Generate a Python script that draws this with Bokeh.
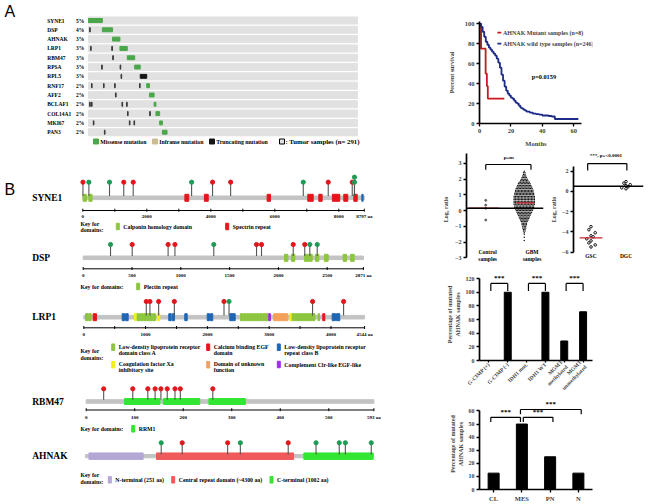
import math
from bokeh.plotting import figure
from bokeh.layouts import row, column
from bokeh.models import Range1d, FactorRange, Label, Span, FixedTicker
from bokeh.core.properties import value
from bokeh.embed import file_html
from bokeh.resources import INLINE

SERIF = "Liberation Serif"
SANS = "Liberation Sans"

# ======================= DATA =======================
# ---- Panel A: oncoprint
a_genes = ["SYNE1", "DSP", "AHNAK", "LRP1", "RBM47", "RPSA", "RPL5", "RNF17", "AFF2",
           "BCLAF1", "COL14A1", "MKI67", "PAN3"]
a_freq = ["5%", "4%", "3%", "3%", "3%", "3%", "3%", "2%", "2%", "2%", "2%", "2%", "2%"]
a_n_samples = 291
a_block_start = [0, 15, 26, 34, 42, 50, 56, 63, 66, 71, 73, 77, 80]
a_block_count = [15, 11, 8, 8, 8, 6, 7, 3, 5, 2, 4, 3, 5]
a_block_type = ["Missense", "Missense", "Missense", "Missense", "Missense", "Missense",
                "Truncating", "Missense", "Missense", "Missense", "Missense", "Missense", "Missense"]
a_single_hits = [[], [1], [], [2, 25], [26], [14, 34], [35], [3, 16, 28, 55], [29],
                 [1, 3, 36, 41], [42, 66], [5, 44, 49], [17]]
a_legend_labels = ["Missense mutation", "Inframe mutation", "Truncating mutation"]
a_legend_types = ["Missense", "Inframe", "Truncating"]

# ---- Panel B: protein lollipops
syne1_len = 8797
syne1_dom_start = [10, 190, 3190, 3800, 5760, 7030, 7375, 7800, 8155, 8470, 8720]
syne1_dom_end = [115, 290, 3310, 3920, 5865, 7200, 7480, 8030, 8280, 8575, 8760]
syne1_dom_kind = ["CH", "CH", "SPEC", "SPEC", "SPEC", "SPEC", "SPEC", "SPEC", "SPEC", "SPEC", "KASH"]
syne1_mut_pos = [5, 190, 835, 1280, 1575, 3400, 4055, 4620, 6890, 7670, 8420, 8490]
syne1_mut_kind = ["R", "G", "G", "R", "R", "G", "R", "R", "G", "R", "R", "G"]
syne1_mut_n = [1, 1, 1, 1, 1, 1, 1, 1, 1, 1, 1, 2]
syne1_ticks = [0, 2000, 4000, 6000, 8000, 8797]
syne1_minor = [1000, 3000, 5000, 7000]

dsp_len = 2871
dsp_dom_start = [2063, 2134, 2267, 2310, 2380, 2472, 2664, 2739]
dsp_dom_end = [2097, 2168, 2305, 2346, 2414, 2510, 2698, 2777]
dsp_dom_kind = ["PLEC"] * 8
dsp_mut_pos = [280, 502, 870, 940, 1338, 1776, 1827, 2152, 2270, 2322, 2398]
dsp_mut_kind = ["G", "R", "R", "R", "G", "R", "R", "R", "R", "G", "G"]
dsp_mut_n = [1] * 11
dsp_ticks = [0, 500, 1000, 1500, 2000, 2500, 2871]
dsp_minor = []

lrp1_len = 4544
lrp1_dom_start = [28, 78, 152, 621, 675, 820, 864, 916, 968, 1020, 1072, 1124, 1188, 1375, 1430,
                  1634, 1997, 2050, 2362, 2536, 2587, 2638, 2689, 2740, 2791, 2842, 2893, 2944,
                  2993, 3074, 3333, 3372, 3419, 3466, 3513, 3560, 3607, 3654, 3701, 3790, 3867,
                  4019, 4089]
lrp1_dom_end = [70, 120, 205, 659, 718, 853, 906, 958, 1010, 1062, 1114, 1160, 1230, 1414, 1468,
                1673, 2034, 2087, 2450, 2578, 2629, 2680, 2731, 2782, 2833, 2884, 2935, 2986,
                3021, 3301, 3372, 3412, 3459, 3506, 3553, 3600, 3647, 3694, 3741, 3814, 3900,
                4073, 4142]
lrp1_dom_kind = ["LA", "LA", "EGF", "LB", "LB", "XA", "LA", "LA", "LA", "LA", "LA", "LA", "XA",
                 "LB", "LB", "LB", "LB", "LB", "LB", "LA", "LA", "LA", "LA", "LA", "LA", "LA",
                 "LA", "LA", "CLR", "DUF", "XA", "LA", "LA", "LA", "LA", "LA", "LA", "LA", "LA",
                 "LA", "EGF", "LB", "LB"]
lrp1_mut_pos = [1011, 1070, 1211, 1465, 2269, 2350, 3702, 4204]
lrp1_mut_kind = ["R", "R", "R", "R", "R", "G", "R", "R"]
lrp1_mut_n = [1] * 8
lrp1_ticks = [0, 1000, 2000, 3000, 4000, 4544]
lrp1_minor = [500, 1500, 2500, 3500]

rbm47_len = 593
rbm47_dom_start = [79, 159, 253]
rbm47_dom_end = [152, 234, 328]
rbm47_dom_kind = ["RRM", "RRM", "RRM"]
rbm47_mut_pos = [36, 96, 127, 142, 154, 167, 183, 194, 261]
rbm47_mut_kind = ["R"] * 9
rbm47_mut_n = [1] * 9
rbm47_ticks = [0, 100, 200, 300, 400, 500, 593]
rbm47_minor = []

ahnak_len = 5890
ahnak_dom_start = [70, 1454, 4470]
ahnak_dom_end = [1180, 4260, 5890]
ahnak_dom_kind = ["NT", "CR", "CT"]
ahnak_mut_pos = [1550, 1980, 2910, 3170, 4150, 4720, 5195, 5320, 5850]
ahnak_mut_kind = ["G", "R", "R", "G", "R", "G", "G", "G", "G"]
ahnak_mut_n = [1] * 9

# ---- Panel C: Kaplan-Meier
mut_months = [0, 1.0, 3.9, 4.7, 5.3, 15.8]
mut_surv = [100, 75, 50, 37.5, 25, 25]
wt_months = [0, 1, 2, 3, 4, 5, 6, 7, 8, 9, 10, 11, 12, 13, 14, 15, 16, 17, 18, 19, 20, 21, 22,
             23, 24, 25, 26, 27, 28, 29, 30, 32, 34, 36, 38, 40, 42, 44, 46, 48, 63]
wt_surv = [100, 97, 92, 87, 82, 79, 76, 74, 72, 70, 68, 65, 61, 56, 49, 43, 37, 33, 30, 28, 26,
           25, 23, 21, 20, 18, 16, 15, 14, 13, 12, 11, 10, 9.5, 9, 8, 8, 7.5, 7, 4.5, 4.5]
c_series_labels = ["AHNAK Mutant samples (n=8)", "AHNAK wild type samples (n=246)"]
c_p_value = "p=0.0159"

# ---- Panel D: expression
d_ctrl_vals = [0.65, 0.35, 0.15, -0.6]
d_ctrl_median = 0.15
d_gbm_levels = [2.5, 2.4, 2.3, 2.2, 2.1, 2.0, 1.9, 1.8, 1.7, 1.6, 1.5, 1.4, 1.3, 1.2, 1.1, 1.0,
                0.9, 0.8, 0.7, 0.6, 0.5, 0.4, 0.3, 0.2, 0.1, 0.0, -0.1, -0.2, -0.3, -0.4, -0.5,
                -0.6, -0.7, -0.8, -0.9, -1.0, -1.1, -1.2, -1.3, -1.4, -1.5, -1.7, -1.9]
d_gbm_counts = [1, 2, 2, 3, 4, 5, 6, 8, 9, 10, 11, 12, 13, 13, 14, 14, 15, 15, 15, 15, 15, 15,
                14, 14, 13, 12, 11, 10, 9, 8, 7, 6, 5, 4, 4, 3, 3, 2, 2, 1, 1, 1, 1]
d_gbm_median = 0.49
d_left_ref = 0.15
d_gsc_vals = [-3.5, -3.8, -4.1, -4.4, -4.5, -4.7, -4.9, -5.1, -5.3, -5.5]
d_gsc_median = -4.6
d_dgc_vals = [0.95, 0.8, 0.65, 0.55, 0.45, 0.35, 0.25]
d_right_ref = 0.5

# ---- Panel E
e_cats = ["G-CIMP (+)", "G-CIMP (-)", "IDH1 mut.", "IDH1 WT", "MGMT\nmethylated", "MGMT\nunmethylated"]
e_vals = [0, 100, 0, 100, 28.6, 71.4]
e_pairs = [(0, 1), (2, 3), (4, 5)]
e_pair_h = [113, 113, 113]

# ---- Panel F
f_cats = ["CL", "MES", "PN", "N"]
f_vals = [12.5, 50, 25, 12.5]
f_pairs = [(0, 1), (1, 2), (1, 3)]
f_pair_h = [55.1, 55.1, 61.1]

# ======================= STYLE =======================
MUT_COLORS = {"Missense": "#4aa74a", "Inframe": "#cbbd93", "Truncating": "#151515"}
DOM_COLORS = {"CH": "#8cc63f", "SPEC": "#e8141c", "KASH": "#1f66b5", "PLEC": "#8cc63f",
              "LA": "#8cc63f", "EGF": "#e8141c", "LB": "#1f66b5", "XA": "#f2ee1c",
              "DUF": "#f5a05a", "CLR": "#9b30e8", "RRM": "#33e633", "NT": "#b4a7d6",
              "CR": "#f05a5a", "CT": "#33e633"}
HEAD_COLORS = {"R": "#e3161b", "G": "#1e9b55"}
KM_COLORS = ["#c8191e", "#1c2a88"]


def base_fig(**kw):
    p = figure(output_backend="svg", toolbar_location=None, **kw)
    p.grid.visible = False
    p.outline_line_color = None
    p.background_fill_color = "white"
    p.border_fill_color = "white"
    return p


def txt(p, xs, ys, ts, size, align="left", baseline="middle", font=SERIF, style="bold",
        color="black", **kw):
    p.text(x=xs, y=ys, text=ts, text_font=value(font), text_font_style=style,
           text_font_size=size, text_align=align, text_baseline=baseline,
           text_color=color, text_line_height=1.05, **kw)


def style_axes(p, size="6.5px", label_size=None, standoff=3):
    for a in p.axis:
        a.axis_line_width = 1.7
        a.axis_line_color = "black"
        a.major_tick_line_width = 1.3
        a.major_tick_line_color = "black"
        a.major_tick_out = 3
        a.major_tick_in = 0
        a.minor_tick_line_color = None
        a.major_label_text_font = SERIF
        a.major_label_text_font_style = "bold"
        a.major_label_text_font_size = size
        a.major_label_standoff = 2
        a.axis_label_text_font = SERIF
        a.axis_label_text_font_style = "bold"
        a.axis_label_text_font_size = label_size or size
        a.axis_label_standoff = standoff


def letter(p, x, y, t):
    p.add_layout(Label(x=x, y=y, text=t, text_font=SANS, text_font_size="16px",
                       text_align="center", text_baseline="middle"))


# ======================= PANEL A =======================
A_X0, A_DX, A_Y0, A_DY = 88.0, 0.924, 20.0, 9.31


def ax_(px):
    return (px - A_X0) / A_DX


def ay_(py):
    return (py - A_Y0) / A_DY


fa = base_fig(width=420, height=160, x_range=Range1d(ax_(0), ax_(420)),
              y_range=Range1d(ay_(160), ay_(0)), min_border=0,
              x_axis_location=None, y_axis_location=None)
rows = list(range(len(a_genes)))
fa.hbar(y=rows, left=[0] * len(rows), right=[a_n_samples] * len(rows), height=0.76,
        color="#e1e1e1")
fa.hbar(y=rows, left=a_block_start,
        right=[s + c for s, c in zip(a_block_start, a_block_count)], height=0.42,
        color=[MUT_COLORS[t] for t in a_block_type])
sx, sy = [], []
for r, hits in enumerate(a_single_hits):
    for h in hits:
        sx.append(h)
        sy.append(r)
fa.hbar(y=sy, left=[h + 0.2 for h in sx], right=[h + 0.9 for h in sx], height=0.45,
        color="#3a3a3a")
txt(fa, [ax_(46.7)] * len(rows), rows, a_genes, "5.5px")
txt(fa, [ax_(75.5)] * len(rows), rows, a_freq, "5.5px")
leg_sq = [95.5, 154.5, 211.5]
fa.scatter(x=[ax_(v) for v in leg_sq], y=[ay_(141)] * 3, marker="square", size=5,
           color=[MUT_COLORS[t] for t in a_legend_types])
txt(fa, [ax_(v + 4.2) for v in leg_sq], [ay_(141)] * 3, a_legend_labels, "5.8px")
fa.scatter(x=[ax_(281.5)], y=[ay_(141)], marker="square", size=5, fill_color="#e1e1e1",
           line_color="black", line_width=1)
txt(fa, [ax_(285)], [ay_(141)], [": Tumor samples (n= %d)" % a_n_samples], "6.8px")
txt(fa, [ax_(4)], [ay_(11)], ["A"], "16px", font=SANS, style="normal")

# ======================= PANEL B =======================
fb = base_fig(width=420, height=344, x_range=Range1d(0, 420), y_range=Range1d(504, 160),
              min_border=0, x_axis_location=None, y_axis_location=None)

proteins = [
    dict(name="SYNE1", L=syne1_len, ds=syne1_dom_start, de=syne1_dom_end, dk=syne1_dom_kind,
         mp=syne1_mut_pos, mk=syne1_mut_kind, mn=syne1_mut_n, ticks=syne1_ticks,
         minor=syne1_minor, x0=82.3, x1=363.8, bar_y=197.3, head_y=181.7, axis_y=210,
         tick_y=216.3, bar_h=3.6, dom_h=7),
    dict(name="DSP", L=dsp_len, ds=dsp_dom_start, de=dsp_dom_end, dk=dsp_dom_kind,
         mp=dsp_mut_pos, mk=dsp_mut_kind, mn=dsp_mut_n, ticks=dsp_ticks, minor=dsp_minor,
         x0=82.7, x1=362.9, bar_y=257.3, head_y=244, axis_y=268.3, tick_y=274.5,
         bar_h=3.6, dom_h=7),
    dict(name="LRP1", L=lrp1_len, ds=lrp1_dom_start, de=lrp1_dom_end, dk=lrp1_dom_kind,
         mp=lrp1_mut_pos, mk=lrp1_mut_kind, mn=lrp1_mut_n, ticks=lrp1_ticks,
         minor=lrp1_minor, x0=83.3, x1=364.1, bar_y=316.7, head_y=301, axis_y=327.3,
         tick_y=333.5, bar_h=3.6, dom_h=7),
    dict(name="RBM47", L=rbm47_len, ds=rbm47_dom_start, de=rbm47_dom_end, dk=rbm47_dom_kind,
         mp=rbm47_mut_pos, mk=rbm47_mut_kind, mn=rbm47_mut_n, ticks=rbm47_ticks,
         minor=rbm47_minor, x0=85.7, x1=373.4, bar_y=401, head_y=388.3, axis_y=409.5,
         tick_y=416.7, bar_h=3.6, dom_h=6),
    dict(name="AHNAK", L=ahnak_len, ds=ahnak_dom_start, de=ahnak_dom_end, dk=ahnak_dom_kind,
         mp=ahnak_mut_pos, mk=ahnak_mut_kind, mn=ahnak_mut_n, ticks=None, minor=None,
         x0=85.0, x1=372.7, bar_y=455.7, head_y=442.3, axis_y=None, tick_y=None,
         bar_h=3.2, dom_h=6.5),
]

for pr in proteins:
    rn = pr["name"]
    s = (pr["x1"] - pr["x0"]) / pr["L"]
    fb.extra_x_ranges[rn] = Range1d(-pr["x0"] / s, (420 - pr["x0"]) / s)
    by = pr["bar_y"]
    fb.hbar(y=[by], left=[0], right=[pr["L"]], height=pr["bar_h"], color="#c3c3c3",
            x_range_name=rn)
    fb.hbar(y=[by] * len(pr["ds"]), left=pr["ds"], right=pr["de"], height=pr["dom_h"],
            color=[DOM_COLORS[k] for k in pr["dk"]], x_range_name=rn)
    hx, hy, hc = [], [], []
    for pos, kind, n in zip(pr["mp"], pr["mk"], pr["mn"]):
        for k in range(n):
            hx.append(pos)
            hy.append(pr["head_y"] - 5 * k)
            hc.append(HEAD_COLORS[kind])
    fb.segment(x0=hx, y0=[by - pr["bar_h"] / 2] * len(hx), x1=hx, y1=hy, line_color="#555555",
               line_width=1.1, x_range_name=rn)
    fb.scatter(x=hx, y=hy, size=4.2, color=hc, x_range_name=rn)
    txt(fb, [31.7], [by], [rn], "9.5px")
    if pr["ticks"] is not None:
        ayy = pr["axis_y"]
        fb.segment(x0=[0], y0=[ayy], x1=[pr["L"]], y1=[ayy], line_color="black",
                   line_width=1, x_range_name=rn)
        allt = pr["ticks"] + pr["minor"]
        fb.segment(x0=allt, y0=[ayy - 1.8] * len(allt), x1=allt, y1=[ayy + 1.2] * len(allt),
                   line_color="black", line_width=1, x_range_name=rn)
        labs = [str(t) if t != pr["L"] else "%d aa" % t for t in pr["ticks"]]
        txt(fb, pr["ticks"], [pr["tick_y"]] * len(labs), labs, "5px", align="center",
            x_range_name=rn)

# keys (positions in panel pixels)
key_heads = [("Key for\ndomains:", 226.3), ("Key for domains:", 286),
             ("Key for\ndomains:", 354), ("Key for domains:", 428.3),
             ("Key for\ndomains:", 478)]
txt(fb, [80] * len(key_heads), [k[1] for k in key_heads], [k[0] for k in key_heads], "5.8px")
key_items = [
    ("Calponin homology domain", "CH", 117.3, 226),
    ("Spectrin repeat", "SPEC", 226.7, 226),
    ("Plectin repeat", "PLEC", 137.7, 286),
    ("Low-density lipoprotein receptor\ndomain class A", "LA", 112.7, 349.2),
    ("Calcium binding EGF\ndomain", "EGF", 207.7, 349.2),
    ("Low-density lipoprotein receptor\nrepeat class B", "LB", 278.3, 349.2),
    ("Coagulation factor Xa\ninhibitory site", "XA", 112.7, 366.7),
    ("Domain of unknown\nfunction", "DUF", 207.7, 366.7),
    ("Complement Clr-like EGF-like", "CLR", 278.3, 364),
    ("RRM1", "RRM", 132.7, 428.3),
    ("N-terminal (251 aa)", "NT", 109.3, 479.3),
    ("Central repeat domain  (~4300 aa)", "CR", 172.7, 479.3),
    ("C-terminal (1002 aa)", "CT", 271, 479.3),
]
fb.rect(x=[k[2] for k in key_items], y=[k[3] if "\n" not in k[0] else k[3] - 2.5 for k in key_items],
        width=3, height=6.5, color=[DOM_COLORS[k[1]] for k in key_items])
txt(fb, [k[2] + 5.5 for k in key_items], [k[3] for k in key_items], [k[0] for k in key_items],
    "5.8px")
txt(fb, [4], [189], ["B"], "16px", font=SANS, style="normal")

# ======================= PANEL C =======================
fc = base_fig(width=228, height=150, x_range=Range1d(0, 72), y_range=Range1d(0, 102.3),
              min_border_left=58, min_border_right=21, min_border_top=21, min_border_bottom=27)
fc.step(mut_months, mut_surv, mode="after", line_color=KM_COLORS[0], line_width=1.8)
fc.step(wt_months, wt_surv, mode="after", line_color=KM_COLORS[1], line_width=1.8)
fc.xaxis.ticker = FixedTicker(ticks=[0, 20, 40, 60])
fc.xaxis.bounds = (0, 65)
fc.yaxis.ticker = FixedTicker(ticks=[0, 20, 40, 60, 80, 100])
fc.xaxis.axis_label = "Months"
fc.yaxis.axis_label = "Percent survival"
style_axes(fc, size="6.5px", standoff=4)
fc.yaxis.axis_label_standoff = 7
fc.yaxis.axis_label_text_font_size = "6px"
# legend key (line swatch + label), placed in the upper part of the plot
leg_y = [91.2, 80.2]
fc.segment(x0=[11.4, 11.4], y0=leg_y, x1=[13.9, 13.9], y1=leg_y, line_color=KM_COLORS,
           line_width=1.8)
for lab, yy in zip(c_series_labels, leg_y):
    fc.add_layout(Label(x=15.0, y=yy, text=lab, text_font=SERIF, text_font_style="bold",
                        text_font_size="6px", text_baseline="middle", text_align="left"))
txt(fc, [41], [47], [c_p_value], "6.3px", align="center")
letter(fc, -25.5, 111.5, "C")

# ======================= PANEL D =======================
fdl = base_fig(width=128, height=118, x_range=Range1d(0, 4), y_range=Range1d(-3.68, 3.82),
               x_axis_location=None, min_border_left=46, min_border_right=5,
               min_border_top=0, min_border_bottom=0)
fdl.yaxis.ticker = FixedTicker(ticks=[-3, -2, -1, 0, 1, 2, 3])
fdl.yaxis.bounds = (-3, 3.6)
fdl.yaxis.axis_label = "Log\u2082 ratio"
style_axes(fdl, size="6px", standoff=3)
fdl.add_layout(Span(location=d_left_ref, dimension="width", line_color="black", line_width=1.6))
SW_DX = 0.075
gx, gy = [], []
for lvl, cnt in zip(d_gbm_levels, d_gbm_counts):
    for j in range(cnt):
        gx.append(3 + (j - (cnt - 1) / 2) * SW_DX)
        gy.append(lvl)
fdl.scatter(x=gx, y=gy, size=1.5, fill_color="#151515", line_color=None)
fdl.scatter(x=[1] * len(d_ctrl_vals), y=d_ctrl_vals, size=2, color="#666666")
fdl.segment(x0=[0.1, 2.6], y0=[d_ctrl_median, d_gbm_median], x1=[1.7, 3.5],
            y1=[d_ctrl_median, d_gbm_median], line_color="#d0202a", line_width=1.4)
fdl.segment(x0=[1.0, 1.0, 3.35], y0=[2.93, 2.93, 2.93], x1=[3.35, 1.0, 3.35],
            y1=[2.93, 2.59, 2.59], line_color="black", line_width=1.2)
txt(fdl, [2.2], [3.39], ["p=ns"], "5px", align="center")
txt(fdl, [1.1, 3.4], [-2.85, -2.85], ["Control\nsamples", "GBM\nsamples"], "5.5px",
    align="center")
letter(fdl, -2.1, 3.0, "D")

fdr = base_fig(width=100, height=118, x_range=Range1d(0, 4), y_range=Range1d(-7.63, 4.03),
               x_axis_location=None, min_border_left=20, min_border_right=5,
               min_border_top=0, min_border_bottom=0)
fdr.yaxis.ticker = FixedTicker(ticks=[-6, -4, -2, 0, 2])
fdr.yaxis.bounds = (-6, 2.4)
fdr.yaxis.axis_label = "Log\u2082 ratio"
style_axes(fdr, size="6px", standoff=2)
fdr.add_layout(Span(location=d_right_ref, dimension="width", line_color="black", line_width=1.6))
gsc_x = [1 + ((-1) ** i) * 0.12 * (i % 3) for i in range(len(d_gsc_vals))]
dgc_x = [3 + ((-1) ** i) * 0.12 * (i % 3) for i in range(len(d_dgc_vals))]
fdr.scatter(x=gsc_x, y=d_gsc_vals, size=2.6, fill_color="white", line_color="black",
            line_width=0.9)
fdr.scatter(x=dgc_x, y=d_dgc_vals, size=2.6, fill_color="white", line_color="black",
            line_width=0.9)
fdr.segment(x0=[0.35], y0=[d_gsc_median], x1=[1.65], y1=[d_gsc_median], line_color="#d0202a",
            line_width=1.4)
fdr.segment(x0=[0.81, 0.81, 3.05], y0=[2.74, 2.74, 2.74], x1=[3.05, 0.81, 3.05],
            y1=[2.74, 2.05, 2.05], line_color="black", line_width=1.2)
txt(fdr, [1.85], [3.5], ["***, p=<0.0001"], "5px", align="center")
txt(fdr, [1, 3], [-6.37, -6.37], ["GSC", "DGC"], "5.5px", align="center")

# ======================= PANEL E =======================
fe = base_fig(width=228, height=130, x_range=FactorRange(*e_cats, range_padding=0),
              y_range=Range1d(0, 134.8), min_border_left=58, min_border_right=48,
              min_border_top=0, min_border_bottom=37)
fe.vbar(x=e_cats, top=e_vals, width=0.37, color="black")
fe.yaxis.ticker = FixedTicker(ticks=[0, 20, 40, 60, 80, 100, 120])
fe.yaxis.bounds = (0, 120)
fe.yaxis.axis_label = "Percentage of mutated\nAHNAK samples"
style_axes(fe, size="6px", standoff=2)
fe.xaxis.major_label_orientation = math.pi / 4
fe.xaxis.major_label_text_font_size = "5.5px"
fe.xaxis.major_label_standoff = 1
fe.xaxis.major_tick_out = 2
bx0, by0, bx1, by1, tx, ty = [], [], [], [], [], []
for (i, j), h in zip(e_pairs, e_pair_h):
    xl, xr = i + 0.6, j + 0.5
    bx0 += [xl, xl, xr]
    by0 += [h, h, h]
    bx1 += [xr, xl, xr]
    by1 += [h, h - 11, h - 11]
    tx.append((xl + xr) / 2)
    ty.append(h + 1.5)
fe.segment(x0=bx0, y0=by0, x1=bx1, y1=by1, line_color="black", line_width=1.2)
txt(fe, tx, ty, ["***"] * len(tx), "7px", align="center", baseline="bottom")
letter(fe, -2.56, 119, "E")
letter(fe, -2.56, -37, "F")

# ======================= PANEL F =======================
ff = base_fig(width=228, height=106, x_range=FactorRange(*f_cats, range_padding=0),
              y_range=Range1d(0, 69.5), min_border_left=59, min_border_right=56,
              min_border_top=0, min_border_bottom=13)
ff.vbar(x=f_cats, top=f_vals, width=0.39, color="black")
ff.yaxis.ticker = FixedTicker(ticks=[0, 10, 20, 30, 40, 50, 60])
ff.yaxis.bounds = (0, 60)
ff.yaxis.axis_label = "Percentage of mutated\nAHNAK samples"
style_axes(ff, size="6px", standoff=2)
ff.xaxis.major_label_text_font_size = "6.5px"
f_shift = [(-0.1, -0.05), (0.05, 0.1), (-0.05, 0.1)]
bx0, by0, bx1, by1, tx, ty = [], [], [], [], [], []
for ((i, j), h), (sl, sr) in zip(zip(f_pairs, f_pair_h), f_shift):
    xl, xr = i + 0.5 + sl, j + 0.5 + sr
    bx0 += [xl, xl, xr]
    by0 += [h, h, h]
    bx1 += [xr, xl, xr]
    by1 += [h, h - 3.6, h - 3.6]
    tx.append((xl + xr) / 2)
    ty.append(h + 1.0)
ff.segment(x0=bx0, y0=by0, x1=bx1, y1=by1, line_color="black", line_width=1.2)
txt(ff, tx, ty, ["***"] * len(tx), "7px", align="center", baseline="bottom")

layout = row(column(fa, fb), column(fc, row(fdl, fdr), fe, ff))
open("out.html", "w").write(file_html(layout, INLINE))
